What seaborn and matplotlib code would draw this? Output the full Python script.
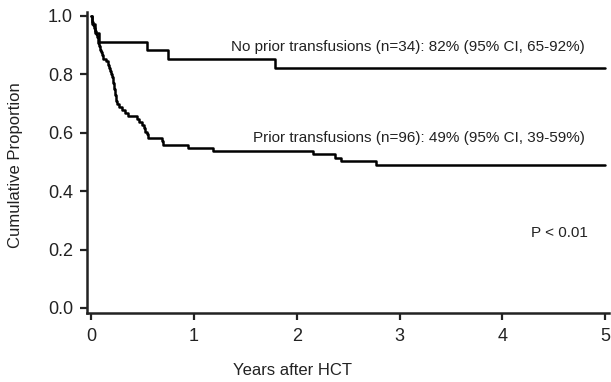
import seaborn as sns
import matplotlib.pyplot as plt
import pandas as pd

# Kaplan-Meier style step points
no_prior_t = [0, 0.01, 0.04, 0.078, 0.54, 0.75, 1.79, 5.0]
no_prior_s = [1.0, 0.971, 0.941, 0.912, 0.882, 0.853, 0.821, 0.821]

prior_t = [0, 0.005, 0.012, 0.02, 0.028, 0.035, 0.045, 0.055, 0.063, 0.07,
           0.078, 0.087, 0.095, 0.104, 0.12, 0.14, 0.16, 0.175, 0.184, 0.195,
           0.205, 0.212, 0.217, 0.222, 0.226, 0.23, 0.235, 0.24, 0.245, 0.25,
           0.27, 0.30, 0.33, 0.362, 0.443, 0.47, 0.49, 0.51, 0.525, 0.54,
           0.556, 0.686, 0.70, 0.945, 1.19, 2.16, 2.37, 2.43, 2.77, 5.0]
prior_s = [1.0, 0.990, 0.979, 0.969, 0.958, 0.948, 0.938, 0.927, 0.917, 0.906,
           0.896, 0.885, 0.875, 0.865, 0.854, 0.844, 0.833, 0.823, 0.813, 0.802,
           0.792, 0.781, 0.771, 0.760, 0.750, 0.740, 0.729, 0.719, 0.708, 0.698,
           0.688, 0.677, 0.667, 0.656, 0.646, 0.635, 0.625, 0.615, 0.604, 0.594,
           0.583, 0.570, 0.558, 0.547, 0.537, 0.526, 0.515, 0.503, 0.490, 0.490]

labels = ['No prior transfusions (n=34): 82% (95% CI, 65-92%)',
          'Prior transfusions (n=96): 49% (95% CI, 39-59%)']
p_text = 'P < 0.01'
x_ticks = [0, 1, 2, 3, 4, 5]
y_ticks = [0.0, 0.2, 0.4, 0.6, 0.8, 1.0]

sns.set_style('ticks')
plt.rcParams['font.family'] = ['Liberation Sans', 'DejaVu Sans']

df = pd.concat([
    pd.DataFrame({'t': no_prior_t, 's': no_prior_s, 'g': 'none'}),
    pd.DataFrame({'t': prior_t, 's': prior_s, 'g': 'prior'}),
])

fig = plt.figure(figsize=(6.11, 3.82), dpi=100)
ax = fig.add_axes([0.1424, 0.181, 0.855, 0.788])
sns.lineplot(data=df, x='t', y='s', units='g', estimator=None, color='black',
             drawstyle='steps-post', linewidth=1.8, ax=ax)

ax.set_xlim(-0.04, 5.04)
ax.set_ylim(-0.017, 1.014)
ax.set_xticks(x_ticks)
ax.set_yticks(y_ticks)
ax.set_yticklabels([f'{v:.1f}' for v in y_ticks])
ax.tick_params(labelsize=13, width=1.6, length=5, color='#222222',
               labelcolor='#222222')
ax.tick_params(axis='x', pad=6)
ax.tick_params(axis='y', pad=5)
sns.despine(ax=ax)
for side in ['left', 'bottom']:
    ax.spines[side].set_linewidth(1.8)
    ax.spines[side].set_color('#222222')

ax.set_xlabel('Years after HCT', fontsize=12, color='#222222', va='center')
ax.set_ylabel('Cumulative Proportion', fontsize=12, color='#222222',
              va='center')
ax.xaxis.set_label_coords(0.393, -0.19)
ax.yaxis.set_label_coords(-0.137, 0.49)

ax.text(4.80, 0.895, labels[0], ha='right', va='center', fontsize=11,
        color='#222222')
ax.text(4.80, 0.581, labels[1], ha='right', va='center', fontsize=11,
        color='#222222')
ax.text(4.55, 0.257, p_text, ha='center', va='center', fontsize=11,
        color='#222222')

fig.savefig('out.png', dpi=100)
